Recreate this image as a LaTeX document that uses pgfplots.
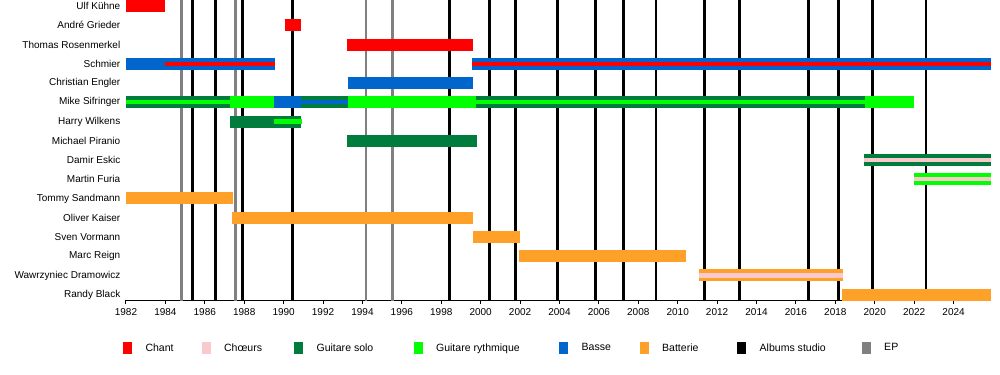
\documentclass[border=0pt]{standalone}
\usepackage{fontspec}
\setmainfont{Liberation Sans}
\usepackage{pgfplots}
\pgfplotsset{compat=1.18}
\definecolor{cChant}{RGB}{255,0,0}
\definecolor{cChoeurs}{RGB}{250,200,205}
\definecolor{cSolo}{RGB}{0,125,60}
\definecolor{cRyth}{RGB}{0,255,0}
\definecolor{cBasse}{RGB}{0,102,204}
\definecolor{cBatt}{RGB}{255,160,40}
\definecolor{cEP}{RGB}{128,128,128}
% full bar / inner stripe: colour, row, start, end
\newcommand{\fullbar}[4]{\addplot[draw=#1, line width=9pt, line cap=butt, forget plot] coordinates {(#3,#2) (#4,#2)};}
\newcommand{\innerbar}[4]{\addplot[draw=#1, line width=3.2pt, line cap=butt, forget plot] coordinates {(#3,#2) (#4,#2)};}
\begin{document}
\begin{tikzpicture}
\useasboundingbox (-94.5pt,-56.25pt) rectangle (655.5pt,225pt);
\begin{axis}[
  scale only axis, width=648.75pt, height=225pt,
  xmin=1982, xmax=2025.9, ymin=-0.273, ymax=15.312,
  axis x line*=bottom, axis y line*=left,
  y axis line style={draw=none},
  x axis line style={black, line width=0.75pt},
  xtick={1982,1984,...,2024}, minor x tick num=1,
  tick align=outside,
  major tick length=3pt, minor tick length=2pt,
  xtick style={black, line width=0.75pt},
  ytick={0,...,15}, ytick style={draw=none},
  yticklabels={Randy Black, Wawrzyniec Dramowicz, Marc Reign, Sven Vormann, Oliver Kaiser, Tommy Sandmann, Martin Furia, Damir Eskic, Michael Piranio, Harry Wilkens, Mike Sifringer, Christian Engler, Schmier, Thomas Rosenmerkel, André Grieder, Ulf Kühne},
  /pgf/number format/.cd, 1000 sep={}, assume math mode=true, /pgfplots/.cd,
  ticklabel style={font=\fontsize{7.5}{9}\selectfont},
  xticklabel style={inner sep=1pt, yshift=-2.5pt},
  yticklabel style={xshift=2.25pt},
  legend columns=8,
  legend image code/.code={\fill[#1, draw=none] (0pt,-4.5pt) rectangle (6.75pt,4.5pt); \path (0pt,0pt) (16.5pt,0pt);},
  legend style={at={(-0.0035,-0.161)}, anchor=west, draw=none, fill=none,
    inner sep=0pt, outer sep=0pt, column sep=0pt,
    nodes={inner sep=0pt}, font=\fontsize{7.9}{9}\selectfont},
  clip=true,
]
% EP (grey) and studio albums (black)
\pgfplotsinvokeforeach{1984.8,1987.55,1994.18,1995.52}{
  \addplot[draw=cEP, line width=2pt, forget plot] coordinates {(#1,-1) (#1,17)};
}
\pgfplotsinvokeforeach{1985.37,1986.53,1987.9,1990.44,1998.41,2000.44,2001.78,2003.9,2005.84,2007.24,2008.89,2011.36,2013.13,2016.64,2018.16,2019.89,2022.6}{
  \addplot[draw=black, line width=2pt, forget plot] coordinates {(#1,-1) (#1,17)};
}
% Ulf Kühne
\fullbar{cChant}{15}{1982}{1984.0}
% André Grieder
\fullbar{cChant}{14}{1990.05}{1990.9}
% Thomas Rosenmerkel
\fullbar{cChant}{13}{1993.2}{1999.6}
% Schmier
\fullbar{cBasse}{12}{1982}{1989.55}
\innerbar{cChant}{12}{1984.0}{1989.55}
\fullbar{cBasse}{12}{1999.55}{2025.9}
\innerbar{cChant}{12}{1999.55}{2025.9}
% Christian Engler
\fullbar{cBasse}{11}{1993.25}{1999.6}
% Mike Sifringer
\fullbar{cSolo}{10}{1982}{1987.3}
\innerbar{cRyth}{10}{1982}{1987.3}
\fullbar{cRyth}{10}{1987.3}{1989.5}
\fullbar{cBasse}{10}{1989.5}{1990.9}
\fullbar{cSolo}{10}{1990.9}{1993.25}
\innerbar{cBasse}{10}{1990.9}{1993.25}
\fullbar{cRyth}{10}{1993.25}{1999.75}
\fullbar{cSolo}{10}{1999.75}{2019.5}
\innerbar{cRyth}{10}{1999.75}{2019.5}
\fullbar{cRyth}{10}{2019.5}{2022.0}
% Harry Wilkens
\fullbar{cSolo}{9}{1987.3}{1990.9}
\innerbar{cRyth}{9}{1989.5}{1990.95}
% Michael Piranio
\fullbar{cSolo}{8}{1993.2}{1999.8}
% Damir Eskic
\fullbar{cSolo}{7}{2019.45}{2025.9}
\innerbar{cChoeurs}{7}{2019.45}{2025.9}
% Martin Furia
\fullbar{cRyth}{6}{2021.97}{2025.9}
\innerbar{cChoeurs}{6}{2021.97}{2025.9}
% Tommy Sandmann
\fullbar{cBatt}{5}{1982}{1987.45}
% Oliver Kaiser
\fullbar{cBatt}{4}{1987.4}{1999.6}
% Sven Vormann
\fullbar{cBatt}{3}{1999.6}{2002.0}
% Marc Reign
\fullbar{cBatt}{2}{2001.95}{2010.4}
% Wawrzyniec Dramowicz
\fullbar{cBatt}{1}{2011.1}{2018.4}
\innerbar{cChoeurs}{1}{2011.1}{2018.4}
% Randy Black
\fullbar{cBatt}{0}{2018.35}{2025.9}
% legend
\addlegendimage{fill=cChant}\addlegendentry{\makebox[42pt][l]{Chant}}
\addlegendimage{fill=cChoeurs}\addlegendentry{\makebox[52.5pt][l]{Chœurs}}
\addlegendimage{fill=cSolo}\addlegendentry{\makebox[72.75pt][l]{Guitare solo}}
\addlegendimage{fill=cRyth}\addlegendentry{\makebox[92.25pt][l]{Guitare rythmique}}
\addlegendimage{fill=cBasse}\addlegendentry{\makebox[43.5pt][l]{Basse}}
\addlegendimage{fill=cBatt}\addlegendentry{\makebox[56.25pt][l]{Batterie}}
\addlegendimage{fill=black}\addlegendentry{\makebox[76.5pt][l]{Albums studio}}
\addlegendimage{fill=cEP}\addlegendentry{EP}
\end{axis}
\end{tikzpicture}
\end{document}
